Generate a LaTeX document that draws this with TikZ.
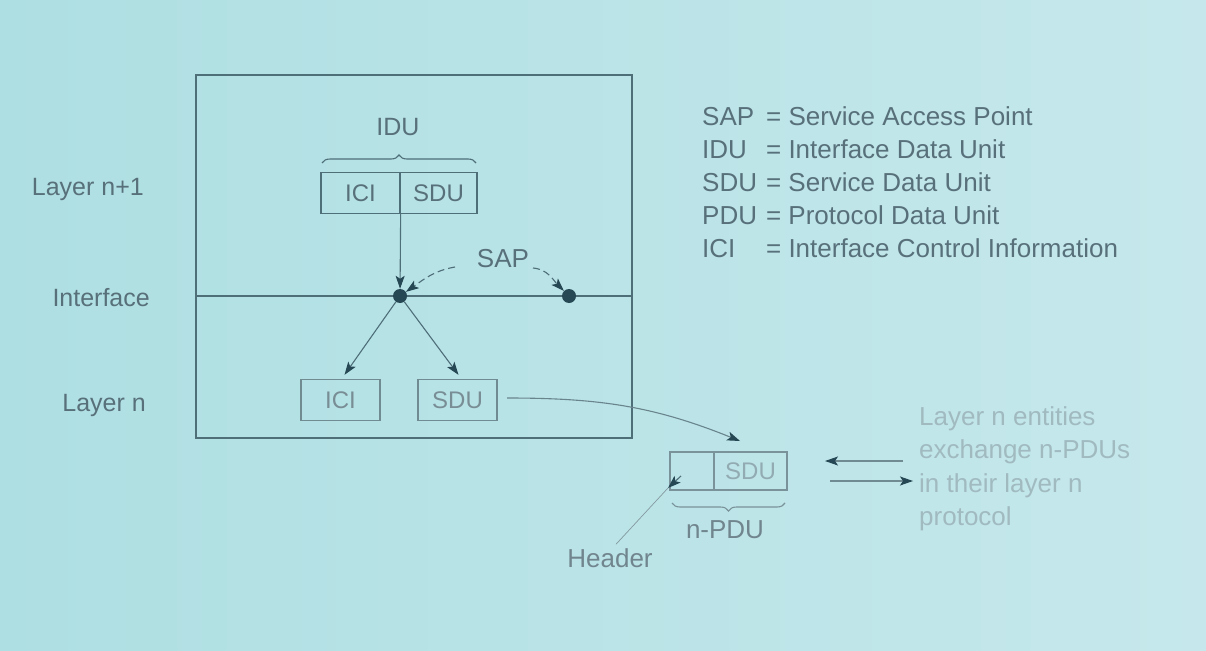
\documentclass[tikz,border=0pt]{standalone}
\usepackage{fontspec}
\setmainfont{Liberation Sans}
\usetikzlibrary{arrows.meta,decorations.pathreplacing,calc}
\definecolor{bgA}{RGB}{174,223,226}
\definecolor{bgB}{RGB}{198,232,236}
\definecolor{ln}{RGB}{78,110,120}
\definecolor{txt}{RGB}{88,112,122}
\definecolor{faint}{RGB}{160,186,192}
\definecolor{dotc}{RGB}{38,72,84}
\begin{document}
\begin{tikzpicture}[x=1pt,y=-1pt,
  lbl/.style={font=\fontsize{25}{30}\selectfont, text=txt, inner sep=0pt},
  cell/.style={draw=ln, line width=1.3pt, minimum height=41pt, font=\fontsize{24}{28}\selectfont, text=txt, inner sep=0pt},
  conn/.style={draw=ln, line width=1.1pt, -{Stealth[length=13pt,width=9pt,inset=3pt,color=dotc]}},
  sapdot/.style={circle, fill=dotc, minimum size=14pt, inner sep=0pt},
  brc/.style={draw=ln, line width=1.1pt, decorate, decoration={brace, amplitude=8pt}}]
\shade[left color=bgA, right color=bgB] (0,0) rectangle (1206,650);
\useasboundingbox (0,0) rectangle (1206,650);

% main frame
\draw[ln, line width=1.4pt] (196,75) rectangle (632,438);
\coordinate (ifl) at (196,296);
\coordinate (ifr) at (632,296);
\draw[ln, line width=1.4pt] (ifl) -- (ifr);

% side labels
\node[lbl, anchor=east] (lnp1) at (144,189) {Layer n+1};
\node[lbl, anchor=east] (lint) at (150,298) {Interface};
\node[lbl, anchor=east] (ln0) at (146,405) {Layer n};

% upper IDU
\node[cell, minimum width=79pt] (ici1) at (360.5,193) {ICI};
\node[cell, minimum width=77pt] (sdu1) at (438.5,193) {SDU};
\draw[brc] (322,163) -- (476,163);
\node[lbl] (idu) at (398,127) {IDU};

% SAP dots
\node[sapdot] (sap1) at (400,296) {};
\node[sapdot] (sap2) at (569,296) {};
\draw[conn] (ici1.south east) -- (sap1);
\node[lbl, font=\fontsize{26}{30}\selectfont] (saplbl) at (503,259) {SAP};
\coordinate (sapL) at (455,267);
\coordinate (sapR) at (533,268);
\draw[conn, dash pattern=on 7pt off 4pt] (sapL) to[out=190,in=35] (sap1);
\draw[conn, dash pattern=on 7pt off 4pt] (sapR) to[out=-5,in=135] (sap2);

% lower layer boxes
\node[cell, minimum width=79pt, draw=ln!80, text=txt!80] (ici2) at (340.5,400) {ICI};
\node[cell, minimum width=79pt, draw=ln!80, text=txt!80] (sdu2) at (457.5,400) {SDU};
\draw[conn] (sap1) -- ($(ici2.north)+(4,-4)$);
\draw[conn] (sap1) -- ($(sdu2.north)+(1,-4)$);

% n-PDU
\node[cell, minimum width=44pt, minimum height=38pt, draw=ln!75] (hdr) at (692,471) {};
\node[cell, minimum width=73pt, minimum height=38pt, draw=ln!75, text=faint!80!txt] (sdu3) at (750.5,471) {SDU};
\coordinate (curS) at (507,398);
\coordinate (curE) at (740,441);
\draw[conn, draw=ln!85] (curS) to[out=0,in=158] (curE);
\draw[brc, draw=ln!75] (785,503) -- (672,503);
\node[lbl, text=txt!85, font=\fontsize{26}{30}\selectfont] (npdu) at (725,530) {n-PDU};
\node[lbl, text=txt!85, font=\fontsize{26}{30}\selectfont] (header) at (610,558) {Header};
\coordinate (hS) at (681,476);
\coordinate (hT) at (668,488);
\draw[ln!70, line width=0.7pt] (header.north) ++(6,-4) coordinate (hB) -- (hT);
\draw[conn] (hS) -- (hT);

% exchange arrows
\coordinate (a1s) at (903,461);
\coordinate (a1e) at (825,461);
\coordinate (a2s) at (830,481);
\coordinate (a2e) at (913,481);
\draw[conn, draw=ln!80] (a1s) -- (a1e);
\draw[conn, draw=ln!80] (a2s) -- (a2e);
\node[lbl, text=faint, anchor=north west, align=left, font=\fontsize{26}{33.5}\selectfont] (ex) at (919,406) {Layer n entities\\exchange n-PDUs\\in their layer n\\protocol};

% legend
\node[lbl, anchor=north west, font=\fontsize{26}{33}\selectfont] (legend) at (702,102) {%
\begin{tabular}{@{}l@{\hspace{9pt}}l@{}}
SAP & = Service Access Point\\
IDU & = Interface Data Unit\\
SDU & = Service Data Unit\\
PDU & = Protocol Data Unit\\
ICI & = Interface Control Information
\end{tabular}};
\end{tikzpicture}
\end{document}
